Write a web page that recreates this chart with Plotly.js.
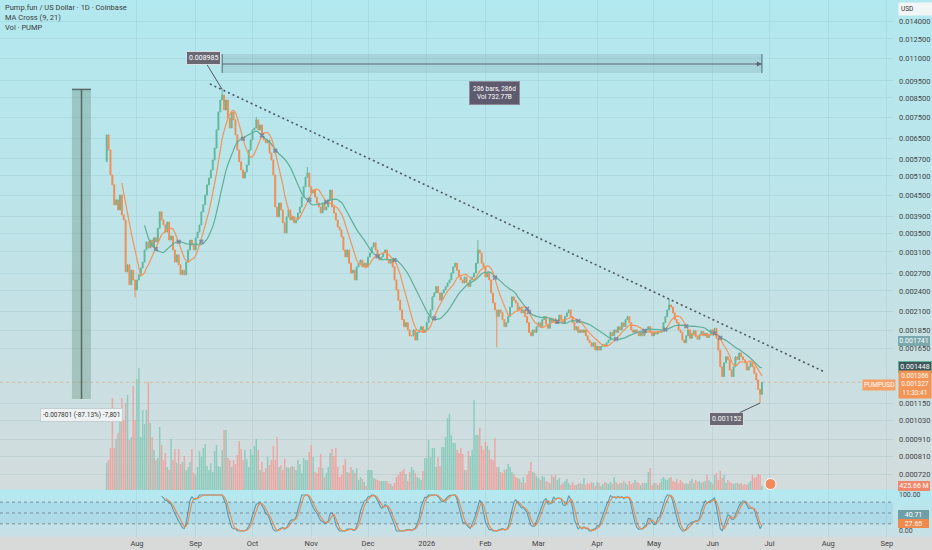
<!DOCTYPE html>
<html><head><meta charset="utf-8">
<script src="https://cdn.plot.ly/plotly-3.0.1.min.js"></script>
<style>
html,body{margin:0;padding:0;}
#wrap{position:relative;width:932px;height:550px;background:linear-gradient(to bottom,#b2e8ef 0px,#bce5ea 200px,#d3dcdd 489px,#b3e9f1 490px,#c8e0e5 536px,#d8d9d9 537px,#d8d9d9 550px);}
#chart{position:absolute;left:0;top:0;width:932px;height:550px;}
</style></head>
<body><div id="wrap"><div id="chart"></div></div>
<script>
// ---------------- data ----------------
const startDate = [2025, 6, 16]; // first daily candle: 16 Jul 2025
const firstOpen = 0.0056;
const closes = [
0.00667,0.00604,0.00513,0.00481,0.00422,0.00436,0.00408,0.00450,0.00395,0.00382,
0.00272,0.00285,0.00250,0.00275,0.00258,0.00242,0.00258,0.00267,0.00279,0.00290,
0.00314,0.00331,0.00318,0.00335,0.00320,0.00340,0.00331,0.00362,0.00403,0.00382,
0.00370,0.00353,0.00377,0.00335,0.00344,0.00314,0.00290,0.00304,0.00285,0.00267,
0.00275,0.00267,0.00290,0.00314,0.00335,0.00324,0.00314,0.00340,0.00353,0.00370,
0.00403,0.00422,0.00450,0.00481,0.00503,0.00530,0.00566,0.00612,0.00689,0.00775,
0.00838,0.00866,0.00785,0.00838,0.00745,0.00698,0.00775,0.00736,0.00667,0.00604,
0.00559,0.00530,0.00503,0.00523,0.00548,0.00604,0.00645,0.00689,0.00698,0.00736,
0.00689,0.00712,0.00658,0.00645,0.00633,0.00645,0.00592,0.00566,0.00513,0.00416,
0.00390,0.00427,0.00408,0.00375,0.00351,0.00390,0.00408,0.00382,0.00390,0.00375,
0.00382,0.00400,0.00416,0.00444,0.00475,0.00506,0.00520,0.00475,0.00456,0.00465,
0.00444,0.00427,0.00416,0.00400,0.00427,0.00408,0.00416,0.00436,0.00465,0.00416,
0.00400,0.00382,0.00365,0.00358,0.00342,0.00314,0.00300,0.00314,0.00288,0.00270,
0.00275,0.00258,0.00281,0.00288,0.00294,0.00281,0.00288,0.00281,0.00300,0.00308,
0.00320,0.00329,0.00314,0.00300,0.00294,0.00300,0.00308,0.00314,0.00294,0.00288,
0.00294,0.00281,0.00258,0.00242,0.00226,0.00212,0.00199,0.00190,0.00195,0.00186,
0.00179,0.00179,0.00186,0.00174,0.00183,0.00186,0.00190,0.00183,0.00186,0.00195,
0.00203,0.00212,0.00231,0.00237,0.00247,0.00237,0.00226,0.00237,0.00242,0.00247,
0.00253,0.00258,0.00270,0.00281,0.00288,0.00275,0.00263,0.00258,0.00253,0.00263,
0.00253,0.00247,0.00258,0.00263,0.00270,0.00288,0.00314,0.00308,0.00288,0.00281,
0.00263,0.00270,0.00258,0.00237,0.00222,0.00212,0.00203,0.00212,0.00208,0.00199,
0.00190,0.00195,0.00203,0.00216,0.00231,0.00226,0.00222,0.00212,0.00216,0.00208,
0.00212,0.00203,0.00195,0.00183,0.00179,0.00186,0.00183,0.00190,0.00195,0.00190,
0.00199,0.00203,0.00193,0.00188,0.00201,0.00196,0.00200,0.00194,0.00198,0.00205,
0.00199,0.00194,0.00203,0.00208,0.00212,0.00203,0.00195,0.00186,0.00190,0.00183,
0.00186,0.00183,0.00186,0.00179,0.00174,0.00171,0.00167,0.00171,0.00163,0.00167,
0.00163,0.00167,0.00169,0.00167,0.00171,0.00174,0.00183,0.00179,0.00186,0.00183,
0.00190,0.00186,0.00195,0.00190,0.00199,0.00203,0.00195,0.00186,0.00183,0.00186,
0.00183,0.00179,0.00183,0.00179,0.00183,0.00186,0.00190,0.00183,0.00179,0.00183,
0.00181,0.00184,0.00183,0.00186,0.00195,0.00203,0.00212,0.00219,0.00216,0.00208,
0.00199,0.00195,0.00186,0.00183,0.00174,0.00171,0.00179,0.00186,0.00176,0.00181,
0.00185,0.00178,0.00175,0.00180,0.00184,0.00179,0.00182,0.00177,0.00180,0.00186,
0.00183,0.00188,0.00176,0.00163,0.00146,0.00137,0.00150,0.00156,0.00153,0.00143,
0.00137,0.00146,0.00156,0.00153,0.00160,0.00156,0.00153,0.00150,0.00143,0.00146,
0.00150,0.00146,0.00140,0.00134,0.00126,0.00122,0.00132
];
// daily volume, billions of PUMP
const volumesB = [
2.7,3.0,4.2,9.2,4.2,5.1,5.7,7.3,9.2,7.0,8.7,9.5,5.0,5.3,10.4,7.0,11.1,12.2,5.3,8.0,6.6,
8.0,10.8,6.7,5.3,4.0,3.0,3.2,6.3,4.5,3.0,3.7,2.3,2.0,5.1,3.0,4.1,2.7,4.1,2.6,2.8,
3.4,2.0,2.3,2.8,4.1,1.7,1.5,2.3,3.9,3.3,4.2,4.6,2.4,2.0,2.7,1.8,3.9,4.5,2.4,2.3,4.0,
6.0,6.0,3.2,3.0,2.3,3.0,2.6,3.5,4.9,4.1,3.0,4.0,3.1,2.3,4.1,3.5,4.4,5.1,4.0,2.0,
2.8,1.8,2.2,3.3,2.5,3.0,4.4,3.0,5.3,2.3,2.5,2.0,3.1,2.3,2.2,2.3,2.4,2.3,2.0,3.0,2.6,
1.7,3.2,3.0,3.0,3.8,4.5,3.3,1.8,1.7,2.3,3.6,2.2,1.3,1.7,2.3,3.7,4.1,3.4,4.2,2.3,
1.3,1.5,2.5,3.1,1.8,1.7,2.3,2.0,1.7,2.2,1.0,1.3,1.1,0.8,0.4,2.0,2.0,2.0,1.2,1.1,1.0,
0.9,0.9,0.9,0.9,0.9,0.7,0.6,0.4,0.7,1.3,1.5,1.8,1.9,2.1,1.6,0.9,1.8,2.3,2.0,1.7,
1.3,1.2,1.0,1.9,3.2,3.2,
5.0,3.3,4.2,4.2,2.3,3.3,2.4,4.3,4.3,5.3,7.2,7.6,5.5,4.7,4.7,4.0,
3.7,4.2,3.6,2.0,2.0,3.9,3.4,4.0,9.0,5.5,5.5,6.2,4.4,4.0,4.8,4.4,
4.0,3.1,3.0,5.2,2.3,2.3,1.8,1.7,2.0,2.1,2.6,2.3,1.8,1.6,1.3,1.2,
1.1,0.8,1.3,0.7,1.5,1.9,2.8,1.8,1.7,1.4,1.2,1.0,1.4,1.3,0.9,0.8,
0.7,1.5,1.3,1.5,1.0,1.2,0.5,0.7,0.9,1.1,0.7,0.5,0.8,0.5,0.5,0.6,
0.7,0.6,1.2,0.5,0.7,0.6,0.8,0.7,0.4,0.8,0.7,0.4,0.6,0.8,0.7,0.6,
0.8,0.6,1.3,0.8,0.6,0.7,0.7,0.9,0.7,0.5,0.9,0.6,0.7,1.0,0.8,0.7,
0.5,0.7,0.7,0.7,1.8,2.2,0.5,0.7,0.7,0.5,0.7,1.1,1.3,1.1,1.0,1.2,
1.3,0.9,0.8,1.1,0.7,1.0,0.8,0.6,0.7,0.6,0.9,1.1,0.7,1.0,0.8,0.9,
0.7,0.8,0.9,1.5,1.0,0.8,0.6,1.5,1.7,1.0,1.9,1.2,1.5,0.7,1.0,0.8,
0.7,0.6,0.7,0.7,0.6,0.7,0.5,0.6,0.5,0.7,0.9,
1.5,1.2,1.3,1.6,1.5,0.43
];
const wickDays  = [61, 345, 206, 15, 106, 196, 297, 79];
const wickHighs = [0.008985, null, null, null, 0.0054, 0.00335, 0.00228, 0.0075];
const wickLows  = [null, 0.001152, 0.00166, 0.0023, null, null, null, null];
const maFastLen = 9, maSlowLen = 21;
const xTickDates = ['2025-08-01','2025-09-01','2025-10-01','2025-11-01','2025-12-01','2026-01-01','2026-02-01','2026-03-01','2026-04-01','2026-05-01','2026-06-01','2026-07-01','2026-08-01','2026-09-01'];
const xTickText  = ['Aug','Sep','Oct','Nov','Dec','2026','Feb','Mar','Apr','May','Jun','Jul','Aug','Sep'];
const priceTicks = [0.014,0.0125,0.011,0.0095,0.0085,0.0075,0.0065,0.0057,0.0051,0.0045,0.0039,0.0035,0.0031,0.0027,0.0024,0.0021,0.00185,0.00165,0.00115,0.00103,0.00091,0.00081,0.00072];
const trendDates  = ['2025-09-08 12:00', '2026-07-30 07:00'];
const trendPrices = [0.00931, 0.001411];
const peakIdx = 61, lowIdx = 345;
const peakPrice = 0.008985, lowPrice = 0.001152;
const dropAbs = 0.007801;
const rangeBars = '286 bars, 286d', rangeVol = 'Vol 732.77B';
const lastVolLabel = '425.66 M';
const stochK_last = '40.71', stochD_last = '27.65';

// ---------------- derived ----------------
const N = closes.length;
const dates = closes.map((_, i) => new Date(Date.UTC(startDate[0], startDate[1], startDate[2] + i)).toISOString().slice(0, 10));
const opens = closes.map((c, i) => i === 0 ? firstOpen : closes[i - 1]);
const highs = closes.map((c, i) => Math.max(c, opens[i]));
const lows  = closes.map((c, i) => Math.min(c, opens[i]));
wickDays.forEach((d, k) => { if (wickHighs[k] != null) highs[d] = wickHighs[k]; if (wickLows[k] != null) lows[d] = wickLows[k]; });
const isUp = closes.map((c, i) => c >= opens[i]);

function sma(arr, len) {
  return arr.map((v, i) => {
    if (i < len - 1) return null;
    let s = 0; for (let j = i - len + 1; j <= i; j++) { if (arr[j] == null) return null; s += arr[j]; }
    return s / len;
  });
}
const maF = sma(closes, maFastLen), maS = sma(closes, maSlowLen);
const crossX = [], crossY = [];
for (let i = 1; i < N; i++) {
  if (maS[i - 1] == null) continue;
  const a = maF[i - 1] - maS[i - 1], b = maF[i] - maS[i];
  if ((a < 0) !== (b < 0)) { crossX.push(dates[i]); crossY.push((maF[i] + maS[i]) / 2); }
}
// Stoch RSI (3,3,14,14)
function rsi(src, len) {
  const out = new Array(src.length).fill(null);
  let ag = 0, al = 0;
  for (let i = 1; i < src.length; i++) {
    const ch = src[i] - src[i - 1], g = Math.max(ch, 0), l = Math.max(-ch, 0);
    if (i <= len) { ag += g; al += l; if (i === len) { ag /= len; al /= len; out[i] = al === 0 ? 100 : 100 - 100 / (1 + ag / al); } }
    else { ag = (ag * (len - 1) + g) / len; al = (al * (len - 1) + l) / len; out[i] = al === 0 ? 100 : 100 - 100 / (1 + ag / al); }
  }
  return out;
}
const r = rsi(closes, 14);
const st = r.map((v, i) => {
  if (i < 14 + 13) return null;
  let mn = Infinity, mx = -Infinity;
  for (let j = i - 13; j <= i; j++) { if (r[j] == null) return null; mn = Math.min(mn, r[j]); mx = Math.max(mx, r[j]); }
  return mx === mn ? 50 : (v - mn) / (mx - mn) * 100;
});
const K = sma(st, 3), D = sma(K, 3);

// ---------------- layout helpers ----------------
const PW = 893, PH = 537;
const px = x => x / PW, py = y => (PH - y) / PH;
const L = v => Math.log10(v);
const FONT = 'Roboto, "Liberation Sans", sans-serif';

const traces = [
  { type: 'bar', x: dates, y: volumesB, xaxis: 'x', yaxis: 'y',
    marker: { color: isUp.map(u => u ? 'rgba(115,198,178,0.72)' : 'rgba(242,152,148,0.78)'), line: { width: 0 } },
    hoverinfo: 'skip' },
  { type: 'candlestick', x: dates, open: opens, high: highs, low: lows, close: closes, xaxis: 'x', yaxis: 'y2',
    increasing: { line: { color: '#62b89e', width: 1 }, fillcolor: '#62b89e' },
    decreasing: { line: { color: '#f28d52', width: 1 }, fillcolor: '#f28d52' },
    whiskerwidth: 0, hoverinfo: 'skip' },
  { type: 'scatter', mode: 'lines', x: dates, y: maS, xaxis: 'x', yaxis: 'y2', line: { color: '#5fae98', width: 1.2 }, hoverinfo: 'skip' },
  { type: 'scatter', mode: 'lines', x: dates, y: maF, xaxis: 'x', yaxis: 'y2', line: { color: '#f4945a', width: 1.2 }, hoverinfo: 'skip' },
  { type: 'scatter', mode: 'markers', x: crossX, y: crossY, xaxis: 'x', yaxis: 'y2',
    marker: { symbol: 'x', size: 4.5, color: 'rgba(105,120,155,0.7)', line: { width: 0 } }, hoverinfo: 'skip' },
  { type: 'scatter', mode: 'lines', x: trendDates, y: trendPrices, xaxis: 'x', yaxis: 'y2',
    line: { color: '#4e5963', width: 1.6, dash: '2px,3px' }, hoverinfo: 'skip' },
  { type: 'scatter', mode: 'lines', x: dates, y: K, xaxis: 'x', yaxis: 'y3', line: { color: '#5b9bb0', width: 1.1 }, hoverinfo: 'skip' },
  { type: 'scatter', mode: 'lines', x: dates, y: D, xaxis: 'x', yaxis: 'y3', line: { color: '#f08a4c', width: 1.1 }, hoverinfo: 'skip' }
];

const measTop = 0.01133, measBot = 0.01001, measMid = 0.01061;
const leftX0 = '2025-06-27 16:00', leftX1 = '2025-07-07 17:00', leftXc = '2025-07-02 17:00';
const gridC = 'rgba(120,160,170,0.16)';

const shapes = [
  // stoch band and levels
  { type: 'rect', xref: 'paper', x0: 0, x1: 1, yref: 'y3', y0: 20, y1: 80, fillcolor: 'rgba(130,195,225,0.28)', line: { width: 0 }, layer: 'below' },
  ...[80, 50, 20].map(v => ({ type: 'line', xref: 'paper', x0: 0, x1: 1, yref: 'y3', y0: v, y1: v, line: { color: 'rgba(110,125,135,0.8)', width: 1, dash: '3px,3px' } })),
  // last price line
  { type: 'line', xref: 'paper', x0: 0, x1: 1, yref: 'y2', y0: closes[N - 1], y1: closes[N - 1], line: { color: 'rgba(240,150,80,0.5)', width: 1, dash: 'dot' } },
  // date range measure
  { type: 'rect', xref: 'x', x0: dates[peakIdx], x1: dates[N - 1], yref: 'y2', y0: measBot, y1: measTop, fillcolor: 'rgba(120,145,160,0.22)', line: { width: 0 } },
  { type: 'line', xref: 'x', x0: dates[peakIdx], x1: dates[N - 1], yref: 'y2', y0: measMid, y1: measMid, line: { color: '#5b6a75', width: 1.2 } },
  { type: 'line', xref: 'x', x0: dates[peakIdx], x1: dates[peakIdx], yref: 'y2', y0: measBot, y1: measTop, line: { color: '#5b6a75', width: 1 } },
  { type: 'line', xref: 'x', x0: dates[N - 1], x1: dates[N - 1], yref: 'y2', y0: measBot, y1: measTop, line: { color: '#5b6a75', width: 1 } },
  // price range measure (left)
  { type: 'rect', xref: 'x', x0: leftX0, x1: leftX1, yref: 'y2', y0: peakPrice - dropAbs, y1: peakPrice, fillcolor: 'rgba(115,155,140,0.42)', line: { width: 0 } },
  { type: 'line', xref: 'x', x0: leftXc, x1: leftXc, yref: 'y2', y0: peakPrice - dropAbs, y1: peakPrice, line: { color: '#5a6a64', width: 1.5 } },
  { type: 'line', xref: 'x', x0: leftX0, x1: leftX1, yref: 'y2', y0: peakPrice, y1: peakPrice, line: { color: '#5a6a64', width: 1.5 } },
  // event icon
  { type: 'circle', xref: 'paper', yref: 'paper', x0: px(765), x1: px(776), y0: py(489.5), y1: py(478.5), fillcolor: '#f08a5a', line: { color: '#ffffff', width: 1 } }
];

const boxFont = { family: FONT, size: 7, color: '#ffffff' };
function rightLabel(y, text, bg, border, pad) {
  return { xref: 'paper', yref: 'paper', x: px(898), y: py(y), xanchor: 'left', yanchor: 'middle', text: text,
    showarrow: false, bgcolor: bg, bordercolor: border || bg, borderwidth: border ? 1 : 0, borderpad: pad == null ? 1 : pad,
    font: boxFont, width: 30, align: 'center' };
}
const annotations = [
  { xref: 'paper', yref: 'paper', x: px(3), y: py(8), xanchor: 'left', yanchor: 'middle', showarrow: false,
    text: 'Pump.fun / US Dollar · 1D · Coinbase', font: { family: FONT, size: 7.5, color: '#3d3d3d' } },
  { xref: 'paper', yref: 'paper', x: px(3), y: py(18), xanchor: 'left', yanchor: 'middle', showarrow: false,
    text: 'MA Cross (9, 21)', font: { family: FONT, size: 7.5, color: '#3d3d3d' } },
  { xref: 'paper', yref: 'paper', x: px(3), y: py(28), xanchor: 'left', yanchor: 'middle', showarrow: false,
    text: 'Vol · PUMP', font: { family: FONT, size: 7.5, color: '#3d3d3d' } },
  // peak / low labels
  { xref: 'x', yref: 'y2', x: dates[peakIdx], y: L(peakPrice), text: peakPrice.toFixed(6), showarrow: true, arrowhead: 0, arrowwidth: 1, arrowcolor: '#55555f',
    ax: -19, ay: -31, bgcolor: '#6a6873', bordercolor: '#dcdce4', borderwidth: 1, borderpad: 2, font: boxFont },
  { xref: 'x', yref: 'y2', x: dates[lowIdx], y: L(lowPrice), text: lowPrice.toFixed(6), showarrow: true, arrowhead: 0, arrowwidth: 1, arrowcolor: '#55555f',
    ax: -34, ay: 16, bgcolor: '#6a6873', bordercolor: '#dcdce4', borderwidth: 1, borderpad: 2, font: boxFont },
  // measure arrow + info box
  { xref: 'x', yref: 'y2', x: dates[N - 1], y: L(measMid), text: '', showarrow: true, arrowhead: 2, arrowsize: 1, arrowwidth: 1, arrowcolor: '#5b6a75', ax: -8, ay: 0 },
  { xref: 'paper', yref: 'paper', x: px(494), y: py(92.5), xanchor: 'center', yanchor: 'middle', text: rangeBars + '<br>' + rangeVol, showarrow: false,
    bgcolor: '#5f5b6e', bordercolor: '#8d8a9a', borderwidth: 1, borderpad: 3, font: { family: FONT, size: 6.5, color: '#ffffff' } },
  { xref: 'x', yref: 'y2', x: leftXc, y: L(peakPrice - dropAbs), yshift: -16, showarrow: false,
    text: '-' + dropAbs.toFixed(6) + ' (-87.13%) -7,801', bgcolor: '#eef2f2', bordercolor: '#c6cfd0', borderwidth: 1, borderpad: 2,
    font: { family: FONT, size: 6.5, color: '#333333' } },
  // right axis labels
  { xref: 'paper', yref: 'paper', x: px(898), y: py(9), xanchor: 'left', yanchor: 'middle', text: 'USD', showarrow: false,
    bgcolor: '#f3f6f6', borderpad: 2, font: { family: FONT, size: 6.5, color: '#333' }, width: 30, align: 'left' },
  rightLabel(341, '0.001741', '#79a9ac'),
  rightLabel(367, '0.001448', '#41565b', '#5cb39a'),
  { xref: 'paper', yref: 'paper', x: px(898), y: py(384), xanchor: 'left', yanchor: 'middle', text: '0.001366<br>0.001327<br>11:33:41',
    showarrow: false, bgcolor: '#f39454', borderpad: 1, font: { family: FONT, size: 6.5, color: '#ffffff' }, width: 30, align: 'center' },
  { xref: 'paper', yref: 'paper', x: px(896), y: py(385), xanchor: 'right', yanchor: 'middle', text: 'PUMPUSD',
    showarrow: false, bgcolor: '#f5a064', borderpad: 1, font: { family: FONT, size: 6.5, color: '#ffffff' } },
  rightLabel(486, lastVolLabel, '#f0866a'),
  rightLabel(514.5, stochK_last, '#6f9ea6', null, 0.5),
  rightLabel(523.5, stochD_last, '#f0894c', null, 0.5)
];

const layout = {
  width: 932, height: 550,
  margin: { l: 0, r: 39, t: 0, b: 13, pad: 0 },
  paper_bgcolor: 'rgba(0,0,0,0)', plot_bgcolor: 'rgba(0,0,0,0)',
  showlegend: false, hovermode: false, dragmode: false,
  font: { family: FONT, size: 7.5, color: '#444' },
  xaxis: { type: 'date', anchor: 'y3', range: ['2025-05-20 16:00', '2026-09-04 05:00'], rangeslider: { visible: false },
    tickvals: xTickDates, ticktext: xTickText, ticks: '', showgrid: true, gridcolor: gridC, gridwidth: 1,
    zeroline: false, showline: false, tickfont: { family: FONT, size: 7.5, color: '#444' } },
  yaxis: { domain: [0.0875, 1], range: [0, 49], visible: false, fixedrange: true },
  yaxis2: { domain: [0.0875, 1], overlaying: 'y', anchor: 'x', side: 'right', type: 'log', range: [-3.1858, -1.7922],
    tickvals: priceTicks, ticktext: priceTicks.map(v => v.toFixed(6)), ticks: '', ticklabelstandoff: 5,
    showgrid: true, gridcolor: gridC, zeroline: false, showline: false, tickfont: { family: FONT, size: 7.5, color: '#444' } },
  yaxis3: { domain: [0, 0.0857], anchor: 'x', side: 'right', range: [-16.7, 111.1], tickvals: [0, 100], ticktext: ['0.00', '100.00'],
    ticks: '', ticklabelstandoff: 5, showgrid: false, zeroline: false, showline: false, tickfont: { family: FONT, size: 7, color: '#444' } },
  shapes: shapes,
  annotations: annotations
};

Plotly.newPlot('chart', traces, layout, { staticPlot: true, displayModeBar: false });
</script>
</body></html>
